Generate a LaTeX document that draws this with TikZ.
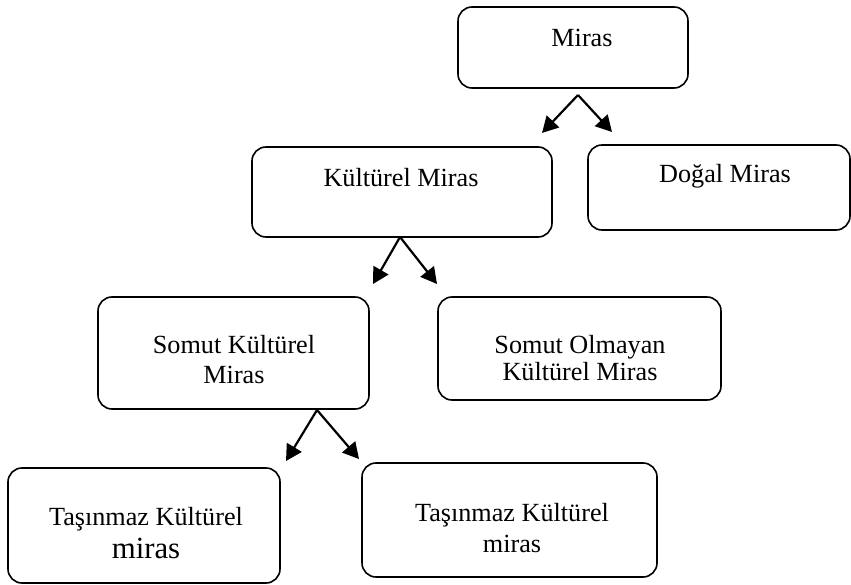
\documentclass[tikz,border=0pt]{standalone}
\usepackage{fontspec}
\setmainfont{Liberation Serif}
\usetikzlibrary{arrows.meta}
\begin{document}
\begin{tikzpicture}[x=1pt,y=-1pt,
  box/.style={draw=black, line width=1.6pt, rounded corners=14pt,
    inner sep=0pt, outer sep=0pt, fill=white},
  lbl/.style={inner sep=0pt, anchor=base, align=center,
    font=\fontsize{26.2}{30}\selectfont},
  arr/.style={line width=2.2pt, -{Triangle[length=16pt,width=17pt]}}]
\useasboundingbox (0,0) rectangle (851,585);

% boxes
\node[box, minimum width=230pt, minimum height=81pt]  (miras)   at (573,47.5) {};
\node[box, minimum width=300pt, minimum height=90pt]  (kultur)  at (402,192) {};
\node[box, minimum width=262pt, minimum height=85pt]  (dogal)   at (719,187.5) {};
\node[box, minimum width=271pt, minimum height=112pt] (somut)   at (233.5,353) {};
\node[box, minimum width=283pt, minimum height=103pt] (olmayan) at (579.5,348.5) {};
\node[box, minimum width=272pt, minimum height=115pt] (tasL)    at (144,525.5) {};
\node[box, minimum width=295pt, minimum height=114pt] (tasR)    at (509.5,520) {};

% labels (base anchor sits on the last line)
\node[lbl] (tMiras)   at (582,47)  {Miras};
\node[lbl] (tKultur)  at (401,187) {Kültürel Miras};
\node[lbl] (tDogal)   at (725,183) {Doğal Miras};
\node[lbl] (tSomut)   at (234,383) {Somut Kültürel\\Miras};
\node[lbl] (tOlmayan) at (580,380) {Somut Olmayan\\[-3pt]Kültürel Miras};
\node[lbl] (tTasL)    at (146,558) {Taşınmaz Kültürel\\[3pt]{\fontsize{30.8}{34}\selectfont miras}};
\node[lbl] (tTasR)    at (512,552) {Taşınmaz Kültürel\\[1pt]miras};

% forks and free arrow ends
\coordinate (fMiras)  at (578,95);
\coordinate (eMirasL) at (542,133);
\coordinate (eMirasR) at (612,132);
\coordinate (fKultur)  at (400,237);
\coordinate (eKulturL) at (373,284);
\coordinate (eKulturR) at (437,284);
\coordinate (fSomut)  at (317,410);
\coordinate (eSomutL) at (286,461);
\coordinate (eSomutR) at (359,459);

% connectors
\draw[arr] (fMiras) -- (eMirasL);
\draw[arr] (fMiras) -- (eMirasR);
\draw[arr] (fKultur) -- (eKulturL);
\draw[arr] (fKultur) -- (eKulturR);
\draw[arr] (fSomut) -- (eSomutL);
\draw[arr] (fSomut) -- (eSomutR);
\end{tikzpicture}
\end{document}
